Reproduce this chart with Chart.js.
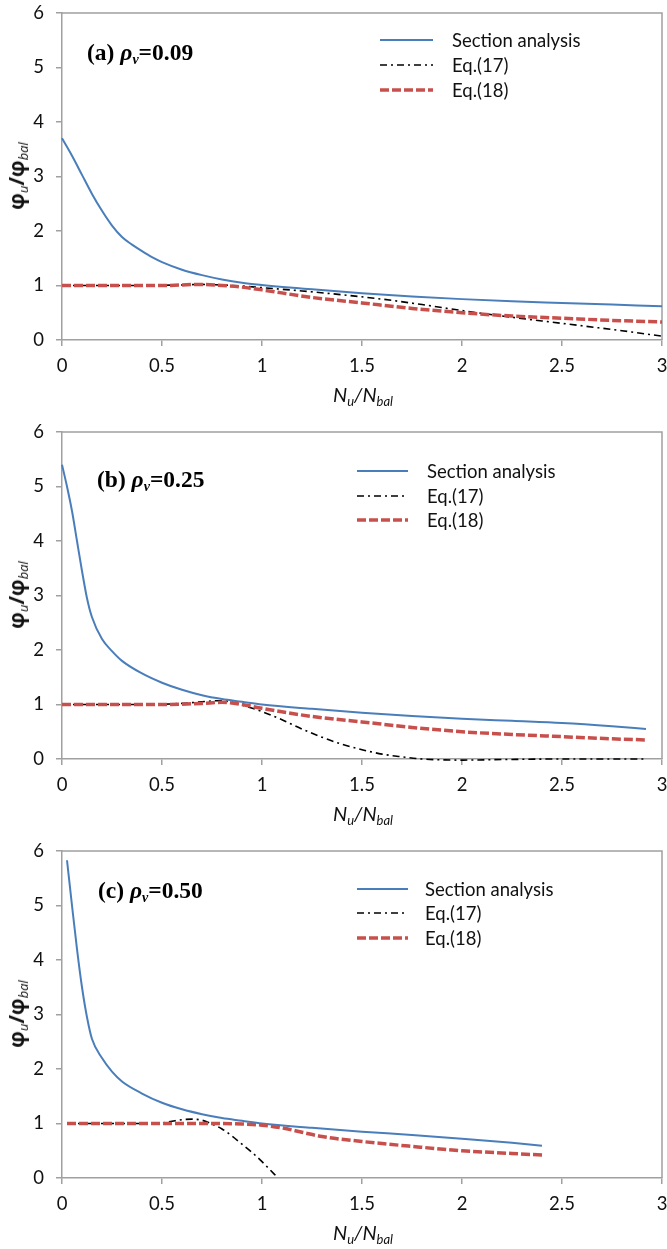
<!DOCTYPE html>
<html><head><meta charset="utf-8">
<script src="https://cdn.jsdelivr.net/npm/chart.js@4.4.1/dist/chart.umd.min.js"></script>
<style>
html,body{margin:0;padding:0;background:#fff;width:667px;height:1249px;overflow:hidden;}
.panel{position:absolute;left:0;width:667px;height:419px;}
.panel canvas{position:absolute;left:0;top:0;}
.lbl{position:absolute;font-family:'Liberation Serif','Times New Roman',serif;font-weight:bold;font-size:23.5px;color:#000;white-space:nowrap;line-height:1;transform:translateY(-50%);}
.lbl i{font-style:italic;}
.lbl sub{font-size:14px;vertical-align:-4px;font-style:italic;}
.leg{position:absolute;left:0;top:0;font-family:Lato,'Open Sans',sans-serif;font-size:18.5px;color:#111;}
.row{position:absolute;white-space:nowrap;height:20px;line-height:20px;transform:translateY(-50%);}
.row svg{position:absolute;top:5px;}
.xt{position:absolute;font-family:Lato,'Open Sans',sans-serif;font-style:italic;font-size:20px;color:#111;white-space:nowrap;transform:translate(-50%,-50%);line-height:1;}
.xt sub{font-size:13px;vertical-align:-4px;}
.yt{position:absolute;font-family:'Open Sans',sans-serif;font-weight:bold;font-size:21px;color:#111;white-space:nowrap;transform:translate(-50%,-50%) rotate(-90deg);line-height:1;}
.yt sub{font-size:13px;vertical-align:-4px;font-style:italic;font-weight:normal;}
</style>
</head><body>
<script>
// ---- data ----
const seriesNames = ['Section analysis', 'Eq.(17)', 'Eq.(18)'];
const panelLetters = ['(a)', '(b)', '(c)'];
const rhoValues = ['0.09', '0.25', '0.50'];
const xTickValues = [0, 0.5, 1, 1.5, 2, 2.5, 3];
const xTickLabels = ['0', '0.5', '1', '1.5', '2', '2.5', '3'];
const yTickValues = [0, 1, 2, 3, 4, 5, 6];

// panel (a) rho_v = 0.09
const aSecX  = [0, 0.05, 0.1, 0.15, 0.2, 0.25, 0.3, 0.35, 0.4, 0.45, 0.5, 0.6, 0.7, 0.8, 0.9, 1.0, 1.25, 1.5, 1.75, 2.0, 2.25, 2.5, 2.75, 3.0];
const aSecY  = [3.7, 3.38, 3.03, 2.68, 2.37, 2.1, 1.89, 1.75, 1.63, 1.52, 1.43, 1.29, 1.19, 1.11, 1.05, 1.01, 0.93, 0.86, 0.8, 0.75, 0.71, 0.68, 0.65, 0.62];
const aEq17X = [0, 0.2, 0.4, 0.6, 0.7, 0.8, 0.9, 1.0, 1.2, 1.4, 1.6, 1.8, 2.0, 2.2, 2.4, 2.6, 2.8, 3.0];
const aEq17Y = [1.0, 1.0, 1.0, 1.01, 1.02, 1.01, 0.99, 0.96, 0.9, 0.83, 0.75, 0.65, 0.54, 0.44, 0.35, 0.26, 0.17, 0.07];
const aEq18X = [0, 0.25, 0.5, 0.7, 0.8, 0.9, 1.0, 1.25, 1.5, 1.75, 2.0, 2.25, 2.5, 2.75, 3.0];
const aEq18Y = [1.0, 1.0, 1.0, 1.02, 1.0, 0.97, 0.92, 0.78, 0.68, 0.58, 0.5, 0.44, 0.4, 0.36, 0.33];

// panel (b) rho_v = 0.25
const bSecX  = [0, 0.025, 0.05, 0.075, 0.1, 0.125, 0.15, 0.2, 0.25, 0.3, 0.4, 0.5, 0.6, 0.7, 0.8, 0.9, 1.0, 1.25, 1.5, 1.75, 2.0, 2.25, 2.5, 2.75, 2.92];
const bSecY  = [5.4, 5.0, 4.55, 4.0, 3.45, 2.95, 2.6, 2.2, 1.98, 1.8, 1.57, 1.4, 1.27, 1.17, 1.1, 1.05, 1.0, 0.92, 0.85, 0.79, 0.74, 0.7, 0.66, 0.6, 0.55];
const bEq17X = [0, 0.2, 0.4, 0.6, 0.7, 0.78, 0.85, 0.9, 1.0, 1.1, 1.2, 1.3, 1.4, 1.5, 1.6, 1.7, 1.8, 2.0, 2.2, 2.5, 2.92];
const bEq17Y = [1.0, 1.0, 1.0, 1.02, 1.05, 1.07, 1.04, 0.99, 0.87, 0.72, 0.55, 0.4, 0.27, 0.17, 0.09, 0.04, 0.0, -0.02, -0.01, 0.0, 0.0];
const bEq18X = [0, 0.25, 0.5, 0.7, 0.8, 0.9, 1.0, 1.25, 1.5, 1.75, 2.0, 2.25, 2.5, 2.75, 2.92];
const bEq18Y = [1.0, 1.0, 1.0, 1.02, 1.04, 1.0, 0.93, 0.78, 0.68, 0.58, 0.5, 0.45, 0.41, 0.37, 0.35];

// panel (c) rho_v = 0.50
const cSecX  = [0.025, 0.05, 0.075, 0.1, 0.125, 0.15, 0.2, 0.25, 0.3, 0.4, 0.5, 0.6, 0.7, 0.8, 0.9, 1.0, 1.25, 1.5, 1.75, 2.0, 2.25, 2.4];
const cSecY  = [5.83, 5.0, 4.2, 3.5, 2.95, 2.55, 2.2, 1.95, 1.77, 1.55, 1.38, 1.26, 1.17, 1.1, 1.05, 1.0, 0.92, 0.85, 0.79, 0.72, 0.645, 0.59];
const cEq17X = [0.025, 0.2, 0.4, 0.5, 0.55, 0.6, 0.65, 0.7, 0.75, 0.8, 0.85, 0.9, 0.95, 1.0, 1.04, 1.07];
const cEq17Y = [1.0, 1.0, 1.0, 1.01, 1.04, 1.07, 1.08, 1.06, 0.99, 0.9, 0.77, 0.62, 0.47, 0.3, 0.15, 0.04];
const cEq18X = [0.025, 0.25, 0.5, 0.75, 0.9, 1.0, 1.1, 1.2, 1.3, 1.5, 1.75, 2.0, 2.25, 2.4];
const cEq18Y = [1.0, 1.0, 1.0, 1.0, 0.99, 0.97, 0.92, 0.84, 0.76, 0.67, 0.58, 0.5, 0.45, 0.42];

// ---- layout / styles ----
const PANEL_H = 419;
const styles = [
  {color: '#4A7EBB', width: 2, dash: [], order: 2},
  {color: '#000000', width: 1.6, dash: [7, 4, 2, 4], order: 1},
  {color: '#C8504C', width: 3.5, dash: [9, 3], order: 0}
];
const panels = [
  {sec: [aSecX, aSecY], e17: [aEq17X, aEq17Y], e18: [aEq18X, aEq18Y], lbl: {x: 87, y: 54}, leg: {x1: 380, x2: 433, tx: 452, rows: [40, 65, 90]}},
  {sec: [bSecX, bSecY], e17: [bEq17X, bEq17Y], e18: [bEq18X, bEq18Y], lbl: {x: 97, y: 62}, leg: {x1: 357, x2: 408, tx: 427, rows: [52, 77, 101]}},
  {sec: [cSecX, cSecY], e17: [cEq17X, cEq17Y], e18: [cEq18X, cEq18Y], lbl: {x: 98, y: 54}, leg: {x1: 357, x2: 408, tx: 425, rows: [51, 75, 100]}}
];
const AXIS_COLOR = '#A0A0A0';
const TICK_FONT = {family: 'Lato', size: 18.5};

const pts = (xs, ys) => xs.map((x, i) => ({x: x, y: ys[i]}));

const framePlugin = {
  id: 'frame',
  beforeDatasetsDraw(chart) {
    const a = chart.chartArea, ctx = chart.ctx;
    ctx.save();
    ctx.strokeStyle = AXIS_COLOR;
    ctx.lineWidth = 1.5;
    ctx.beginPath();
    ctx.moveTo(a.left, a.top);
    ctx.lineTo(a.right, a.top);
    ctx.lineTo(a.right, a.bottom);
    ctx.stroke();
    ctx.restore();
  }
};

panels.forEach((p, idx) => {
  const div = document.createElement('div');
  div.className = 'panel';
  div.style.top = (idx * PANEL_H) + 'px';
  document.body.appendChild(div);
  const cv = document.createElement('canvas');
  cv.width = 667; cv.height = PANEL_H;
  cv.style.width = '667px'; cv.style.height = PANEL_H + 'px';
  div.appendChild(cv);

  const series = [p.sec, p.e17, p.e18];
  const datasets = series.map((s, i) => ({
    label: seriesNames[i],
    data: pts(s[0], s[1]),
    borderColor: styles[i].color,
    borderWidth: styles[i].width,
    borderDash: styles[i].dash,
    order: styles[i].order,
    pointRadius: 0,
    fill: false,
    clip: 4,
    tension: 0.4,
    cubicInterpolationMode: 'monotone'
  }));

  new Chart(cv, {
    type: 'line',
    data: {datasets},
    plugins: [framePlugin],
    options: {
      responsive: false,
      animation: false,
      devicePixelRatio: 1,
      layout: {padding: {top: 13, right: 5, left: 0, bottom: 0}},
      plugins: {legend: {display: false}, tooltip: {enabled: false}},
      scales: {
        x: {
          type: 'linear', min: 0, max: 3,
          afterBuildTicks: s => { s.ticks = xTickValues.map(v => ({value: v})); },
          afterFit: s => { s.height = 79; s.paddingLeft = 0; s.paddingRight = 0; },
          ticks: {font: TICK_FONT, color: '#111', padding: 9, maxRotation: 0, autoSkip: false,
                  callback: v => xTickLabels[xTickValues.indexOf(v)]},
          grid: {display: true, drawOnChartArea: false, drawTicks: true, tickLength: 6, color: AXIS_COLOR, lineWidth: 1.5},
          border: {display: true, color: AXIS_COLOR, width: 1.5}
        },
        y: {
          type: 'linear', min: 0, max: 6,
          afterBuildTicks: s => { s.ticks = yTickValues.map(v => ({value: v})); },
          afterFit: s => { s.width = 62; s.paddingTop = 0; s.paddingBottom = 0; },
          ticks: {font: TICK_FONT, color: '#111', padding: 12, callback: v => String(v)},
          grid: {display: true, drawOnChartArea: false, drawTicks: true, tickLength: 6, color: AXIS_COLOR, lineWidth: 1.5},
          border: {display: true, color: AXIS_COLOR, width: 1.5}
        }
      }
    }
  });

  // panel label
  const lbl = document.createElement('div');
  lbl.className = 'lbl';
  lbl.style.left = p.lbl.x + 'px';
  lbl.style.top = p.lbl.y + 'px';
  lbl.innerHTML = panelLetters[idx] + ' <i>ρ</i><sub>v</sub>=' + rhoValues[idx];
  div.appendChild(lbl);

  // legend
  const leg = document.createElement('div');
  leg.className = 'leg';
  seriesNames.forEach((name, i) => {
    const r = document.createElement('div');
    r.className = 'row';
    r.style.left = p.leg.x1 + 'px';
    r.style.top = p.leg.rows[i] + 'px';
    const w = p.leg.x2 - p.leg.x1;
    r.innerHTML = '<svg width="' + w + '" height="10" style="left:0"><line x1="0" y1="5" x2="' + w + '" y2="5" stroke="' + styles[i].color +
      '" stroke-width="' + styles[i].width + '" stroke-dasharray="' + (styles[i].dash.length ? styles[i].dash.join(',') : 'none') + '"/></svg>' +
      '<span style="position:absolute;left:' + (p.leg.tx - p.leg.x1) + 'px;top:0">' + name + '</span>';
    leg.appendChild(r);
  });
  div.appendChild(leg);

  // axis titles
  const xt = document.createElement('div');
  xt.className = 'xt';
  xt.style.left = '363px'; xt.style.top = '396px';
  xt.innerHTML = 'N<sub>u</sub>/N<sub>bal</sub>';
  div.appendChild(xt);
  const yt = document.createElement('div');
  yt.className = 'yt';
  yt.style.left = '18px'; yt.style.top = '176px';
  yt.innerHTML = 'φ<sub>u</sub>/φ<sub>bal</sub>';
  div.appendChild(yt);
});
</script>
</body></html>
